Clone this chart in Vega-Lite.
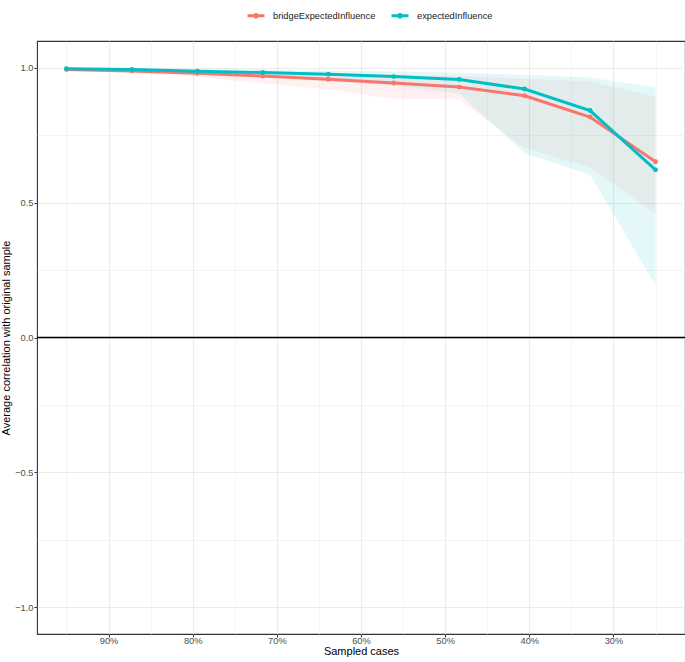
{
  "$schema": "https://vega.github.io/schema/vega-lite/v6.json",
  "width": 648,
  "height": 593,
  "autosize": {"type": "none"},
  "padding": {"left": 37, "top": 41, "right": 0, "bottom": 28},
  "background": "white",
  "config": {
    "font": "Liberation Sans",
    "view": {"stroke": "#333333", "strokeWidth": 1.1},
    "axis": {
      "domain": false,
      "gridColor": "#EBEBEB",
      "tickColor": "#333333",
      "tickSize": 3,
      "labelColor": "#4D4D4D",
      "labelFontSize": 9.3,
      "labelFont": "Liberation Sans",
      "titleFont": "Liberation Sans",
      "titleFontSize": 11,
      "titleFontWeight": "normal",
      "titleColor": "#000000"
    }
  },
  "data": {
    "values": [
      {"type": "bridgeExpectedInfluence", "prop": 0.95, "est": 0.994, "lower": 0.990, "upper": 0.998},
      {"type": "bridgeExpectedInfluence", "prop": 0.8722, "est": 0.989, "lower": 0.982, "upper": 0.995},
      {"type": "bridgeExpectedInfluence", "prop": 0.7944, "est": 0.980, "lower": 0.966, "upper": 0.990},
      {"type": "bridgeExpectedInfluence", "prop": 0.7167, "est": 0.970, "lower": 0.943, "upper": 0.985},
      {"type": "bridgeExpectedInfluence", "prop": 0.6389, "est": 0.958, "lower": 0.920, "upper": 0.980},
      {"type": "bridgeExpectedInfluence", "prop": 0.5611, "est": 0.944, "lower": 0.886, "upper": 0.975},
      {"type": "bridgeExpectedInfluence", "prop": 0.4833, "est": 0.929, "lower": 0.884, "upper": 0.970},
      {"type": "bridgeExpectedInfluence", "prop": 0.4056, "est": 0.897, "lower": 0.703, "upper": 0.960},
      {"type": "bridgeExpectedInfluence", "prop": 0.3278, "est": 0.818, "lower": 0.631, "upper": 0.950},
      {"type": "bridgeExpectedInfluence", "prop": 0.25, "est": 0.652, "lower": 0.459, "upper": 0.894},
      {"type": "expectedInfluence", "prop": 0.95, "est": 0.997, "lower": 0.993, "upper": 0.999},
      {"type": "expectedInfluence", "prop": 0.8722, "est": 0.994, "lower": 0.986, "upper": 0.998},
      {"type": "expectedInfluence", "prop": 0.7944, "est": 0.988, "lower": 0.976, "upper": 0.996},
      {"type": "expectedInfluence", "prop": 0.7167, "est": 0.983, "lower": 0.966, "upper": 0.994},
      {"type": "expectedInfluence", "prop": 0.6389, "est": 0.977, "lower": 0.950, "upper": 0.990},
      {"type": "expectedInfluence", "prop": 0.5611, "est": 0.968, "lower": 0.935, "upper": 0.987},
      {"type": "expectedInfluence", "prop": 0.4833, "est": 0.957, "lower": 0.905, "upper": 0.982},
      {"type": "expectedInfluence", "prop": 0.4056, "est": 0.922, "lower": 0.684, "upper": 0.975},
      {"type": "expectedInfluence", "prop": 0.3278, "est": 0.842, "lower": 0.604, "upper": 0.965},
      {"type": "expectedInfluence", "prop": 0.25, "est": 0.622, "lower": 0.193, "upper": 0.928}
    ]
  },
  "layer": [
    {
      "mark": {"type": "area", "opacity": 0.1},
      "encoding": {
        "x": {
          "field": "prop", "type": "quantitative",
          "scale": {"domain": [0.215, 0.985], "reverse": true, "nice": false, "zero": false},
          "axis": {
            "title": "Sampled cases",
            "values": [0.95, 0.9, 0.85, 0.8, 0.75, 0.7, 0.65, 0.6, 0.55, 0.5, 0.45, 0.4, 0.35, 0.3, 0.25],
            "labelExpr": "abs(datum.value*10 - round(datum.value*10)) < 0.001 ? format(datum.value, '.0%') : ''",
            "gridWidth": {"condition": {"test": "abs(datum.value*10 - round(datum.value*10)) < 0.001", "value": 1.1}, "value": 0.55},
            "tickOpacity": {"condition": {"test": "abs(datum.value*10 - round(datum.value*10)) < 0.001", "value": 1}, "value": 0},
            "labelPadding": -1,
            "titlePadding": 0,
            "labelFlush": false,
            "labelOverlap": false
          }
        },
        "y": {
          "field": "lower", "type": "quantitative",
          "scale": {"domain": [-1.1, 1.1], "nice": false, "zero": false},
          "axis": {
            "title": "Average correlation with original sample",
            "values": [-1, -0.75, -0.5, -0.25, 0, 0.25, 0.5, 0.75, 1],
            "labelExpr": "abs(datum.value*2 - round(datum.value*2)) < 0.001 ? format(datum.value, '.1f') : ''",
            "gridWidth": {"condition": {"test": "abs(datum.value*2 - round(datum.value*2)) < 0.001", "value": 1.1}, "value": 0.55},
            "tickOpacity": {"condition": {"test": "abs(datum.value*2 - round(datum.value*2)) < 0.001", "value": 1}, "value": 0},
            "labelPadding": 1,
            "titlePadding": 3,
            "labelFlush": false,
            "labelOverlap": false
          }
        },
        "y2": {"field": "upper"},
        "color": {
          "field": "type", "type": "nominal",
          "scale": {"domain": ["bridgeExpectedInfluence", "expectedInfluence"], "range": ["#F8766D", "#00BFC4"]},
          "legend": {
            "orient": "none",
            "legendX": 209,
            "legendY": -35.5,
            "direction": "horizontal",
            "title": null,
            "symbolType": "M-1,0H1M-0.15,0A0.15,0.15,0,1,1,0.15,0A0.15,0.15,0,1,1,-0.15,0",
            "symbolSize": 289,
            "symbolStrokeWidth": 3,
            "symbolOpacity": 1,
            "labelFontSize": 9.3,
            "labelFont": "Liberation Sans",
            "labelColor": "#1A1A1A",
            "labelOffset": 7,
            "columnPadding": 9,
            "padding": 0,
            "encode": {
              "symbols": {
                "update": {
                  "stroke": {"scale": "color", "field": "value"},
                  "fill": {"scale": "color", "field": "value"},
                  "opacity": {"value": 1},
                  "fillOpacity": {"value": 1},
                  "strokeOpacity": {"value": 1},
                  "strokeWidth": {"value": 3}
                }
              }
            }
          }
        }
      }
    },
    {
      "data": {"values": [{"zero": 0}]},
      "mark": {"type": "rule", "color": "#000000", "strokeWidth": 1.6},
      "encoding": {
        "y": {"field": "zero", "type": "quantitative", "axis": {"title": "Average correlation with original sample"}}
      }
    },
    {
      "mark": {"type": "line", "strokeWidth": 3},
      "encoding": {
        "x": {"field": "prop", "type": "quantitative", "axis": {"title": "Sampled cases"}},
        "y": {"field": "est", "type": "quantitative", "axis": {"title": "Average correlation with original sample"}},
        "color": {"field": "type", "type": "nominal"}
      }
    },
    {
      "mark": {"type": "point", "filled": true, "opacity": 1, "size": 24},
      "encoding": {
        "x": {"field": "prop", "type": "quantitative", "axis": {"title": "Sampled cases"}},
        "y": {"field": "est", "type": "quantitative", "axis": {"title": "Average correlation with original sample"}},
        "color": {"field": "type", "type": "nominal"}
      }
    }
  ]
}
